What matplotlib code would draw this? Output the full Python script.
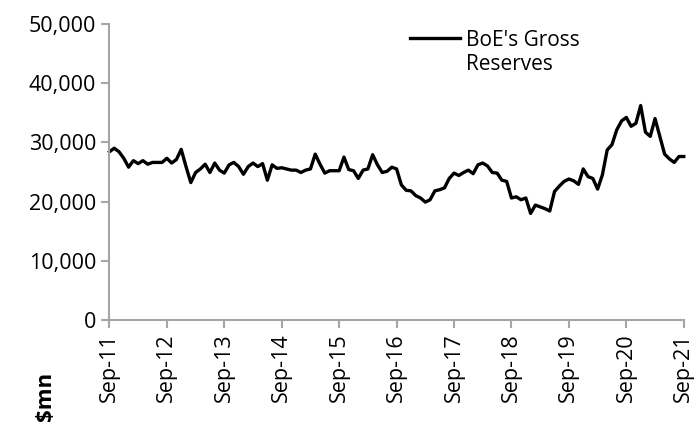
import matplotlib.pyplot as plt
from matplotlib.ticker import FuncFormatter
from matplotlib.legend_handler import HandlerLine2D

plt.rcParams["font.family"] = ["Open Sans", "DejaVu Sans"]

# monthly, Sep-11 .. Sep-21, $mn
reserves = [
    28400, 29000, 28400, 27300, 25800, 26900, 26400, 26900, 26300, 26600,
    26600, 26600, 27300, 26500, 27100, 28800, 25900, 23200, 24900, 25500,
    26300, 24900, 26500, 25300, 24800, 26200, 26600, 25900, 24600, 25900,
    26500, 25900, 26400, 23600, 26200, 25600, 25700, 25500, 25300, 25300,
    24900, 25300, 25500, 28000, 26300, 24800, 25200, 25200, 25200, 27500,
    25400, 25200, 23900, 25300, 25500, 27900, 26200, 24900, 25100, 25800,
    25500, 22800, 21900, 21800, 21000, 20600, 19900, 20300, 21800, 22000,
    22300, 23900, 24800, 24400, 24900, 25300, 24700, 26200, 26500, 26000,
    24900, 24800, 23600, 23400, 20600, 20800, 20300, 20600, 18000, 19400,
    19100, 18800, 18400, 21700, 22600, 23400, 23800, 23500, 22900, 25500,
    24200, 23900, 22100, 24500, 28700, 29600, 32100, 33600, 34200, 32700,
    33200, 36200, 31700, 31000, 34000, 31000, 28000, 27200, 26600, 27600,
    27600,
]
tick_labels = ["Sep-11", "Sep-12", "Sep-13", "Sep-14", "Sep-15", "Sep-16",
               "Sep-17", "Sep-18", "Sep-19", "Sep-20", "Sep-21"]


# legend line level with the first line of the label, not the last
class TopLine(HandlerLine2D):
    def create_artists(self, legend, orig_handle, xdescent, ydescent,
                       width, height, fontsize, trans):
        arts = super().create_artists(legend, orig_handle, xdescent, ydescent,
                                      width, height, fontsize, trans)
        y = (height - ydescent) / 2 + 0.72 * fontsize
        for a in arts:
            a.set_ydata([y] * len(a.get_xdata()))
        return arts


fig = plt.figure(figsize=(6.97, 4.25), dpi=100)
ax = fig.add_axes([0.157, 0.247, 0.824, 0.697])

ax.plot(range(len(reserves)), reserves, color="black", lw=2.4,
        label="BoE's Gross\nReserves", clip_on=False)

ax.set_xlim(0, 120)
ax.set_ylim(0, 50000)
ax.set_yticks(range(0, 50001, 10000))
ax.yaxis.set_major_formatter(FuncFormatter(lambda v, p: f"{int(v):,}"))
ax.set_xticks(range(0, 121, 12))
ax.set_xticklabels(tick_labels, rotation=90)

for s in ["top", "right"]:
    ax.spines[s].set_visible(False)
for s in ["left", "bottom"]:
    ax.spines[s].set_color("#a6a6a6")
    ax.spines[s].set_linewidth(1.5)
ax.tick_params(colors="#a6a6a6", labelcolor="black", labelsize=15.5,
               width=1.5, length=6)

ax.legend(loc="upper left", bbox_to_anchor=(0.505, 1.014), frameon=False,
          fontsize=15, handlelength=2.4, handletextpad=0.3, borderpad=0,
          labelspacing=0.2, handler_map={plt.Line2D: TopLine()})

fig.text(0.065, 1 - 372 / 425, "$mn", rotation=90, va="top", ha="center",
         fontsize=16, fontweight="bold")

fig.savefig("out.png", dpi=100)
